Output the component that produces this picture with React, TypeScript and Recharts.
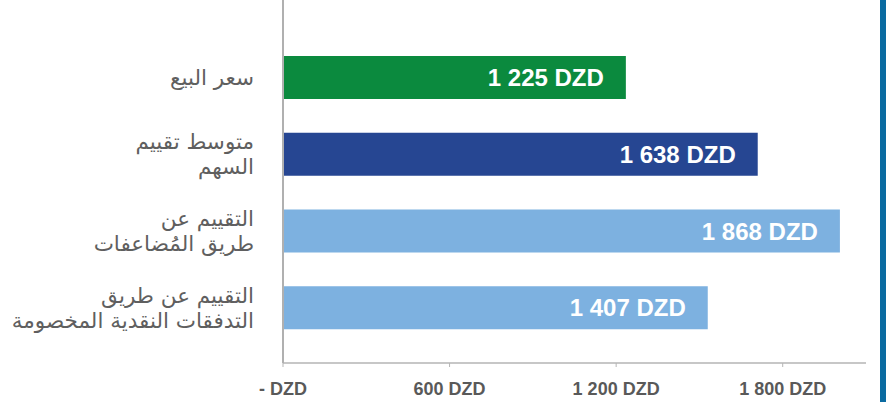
import React from "react";
import { BarChart, Bar, XAxis, YAxis, Cell, LabelList } from "recharts";

const categories = [
  "سعر البيع",
  "متوسط تقييم\nالسهم",
  "التقييم عن\nطريق المُضاعفات",
  "التقييم عن طريق\nالتدفقات النقدية المخصومة",
];
// bar lengths as read against the axis
const barValues = [1235, 1710, 2006, 1530];
// values printed on the bars
const valueLabels = ["1 225 DZD", "1 638 DZD", "1 868 DZD", "1 407 DZD"];
const barColors = ["#0b8a3e", "#264692", "#7db1e0", "#7db1e0"];
const xTicks = [0, 600, 1200, 1800];

const data = categories.map((name, i) => ({ name, value: barValues[i], label: valueLabels[i] }));

const fmtTick = (v: number) => (v === 0 ? "- DZD" : v.toLocaleString("en-US").replace(/,/g, " ") + " DZD");

function CategoryTick(props: any) {
  const { x, y, payload } = props;
  const lines = String(payload.value).split("\n");
  const lh = 25;
  const start = -((lines.length - 1) * lh) / 2;
  return (
    <text
      x={x}
      y={y}
      textAnchor="end"
      fill="#5f5f5f"
      fontSize={21.5}
      fontFamily="DejaVu Sans, Noto Sans, sans-serif"
    >
      {lines.map((l, i) => (
        <tspan key={i} x={x} y={y + start + i * lh} dy="0.35em">
          {l}
        </tspan>
      ))}
    </text>
  );
}

export default function App() {
  return (
    <div style={{ position: "absolute", left: 0, top: 0, width: 886, height: 402, background: "#fff" }}>
      <BarChart
        width={886}
        height={402}
        data={data}
        layout="vertical"
        margin={{ top: 0, right: 20, bottom: 0, left: 0 }}
        barCategoryGap={0}
      >
        <XAxis
          type="number"
          domain={[0, 2100]}
          ticks={xTicks}
          tickFormatter={fmtTick}
          height={39}
          axisLine={{ stroke: "#b5b5b5", strokeWidth: 1.5 }}
          tickLine={{ stroke: "#b5b5b5" }}
          tickSize={4}
          tickMargin={15}
          tick={{ fill: "#595959", fontSize: 18, fontWeight: "bold", fontFamily: "Liberation Sans, Arial, sans-serif" }}
        />
        <YAxis
          type="category"
          dataKey="name"
          width={283}
          padding={{ top: 39, bottom: 17 }}
          axisLine={{ stroke: "#b0b0b0", strokeWidth: 2 }}
          tickLine={false}
          tickSize={0}
          tickMargin={29}
          tick={<CategoryTick />}
          interval={0}
        />
        <Bar dataKey="value" barSize={43} isAnimationActive={false}>
          {data.map((d, i) => (
            <Cell key={d.name} fill={barColors[i]} />
          ))}
          <LabelList
            dataKey="label"
            position="insideRight"
            offset={22}
            fill="#ffffff"
            fontSize={24}
            fontWeight="bold"
            fontFamily="Liberation Sans, Arial, sans-serif"
          />
        </Bar>
      </BarChart>
      <div style={{ position: "absolute", left: 880, top: 0, width: 6, height: 402, background: "#0a6ba1" }} />
    </div>
  );
}
